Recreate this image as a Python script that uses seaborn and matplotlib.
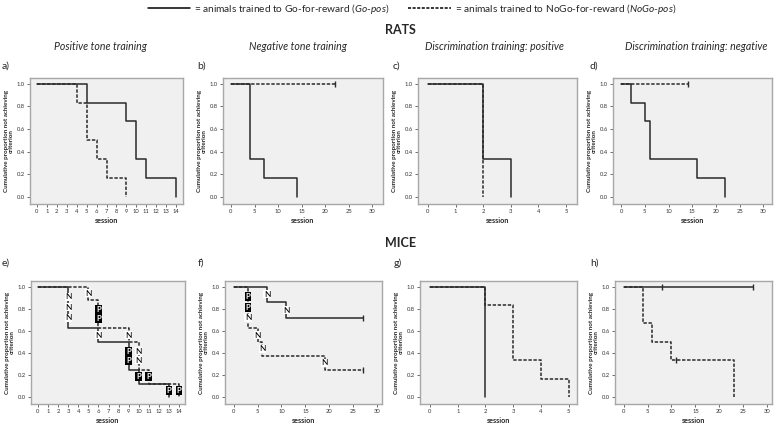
import matplotlib
matplotlib.use('Agg')
import matplotlib.pyplot as plt
import seaborn as sns
from matplotlib.lines import Line2D

# Kaplan-Meier style step data
# (times where the curve steps, proportion after the step)
a_go_t = [0, 5, 9, 10, 11, 14]
a_go_s = [1.0, 0.833, 0.667, 0.333, 0.167, 0.0]
a_nogo_t = [0, 4, 5, 6, 7, 9]
a_nogo_s = [1.0, 0.833, 0.5, 0.333, 0.167, 0.0]

b_go_t = [0, 4, 7, 14]
b_go_s = [1.0, 0.333, 0.167, 0.0]
b_nogo_t = [0, 22]
b_nogo_s = [1.0, 1.0]
b_nogo_cens = [22]

c_go_t = [0, 2, 3]
c_go_s = [1.0, 0.333, 0.0]
c_nogo_t = [0, 2]
c_nogo_s = [1.0, 0.0]

d_go_t = [0, 2, 5, 6, 16, 22]
d_go_s = [1.0, 0.833, 0.667, 0.333, 0.167, 0.0]
d_nogo_t = [0, 14]
d_nogo_s = [1.0, 1.0]
d_nogo_cens = [14]

e_go_t = [0, 3, 6, 9, 10, 13]
e_go_s = [1.0, 0.625, 0.5, 0.25, 0.125, 0.0]
e_go_lab = ['', 'NNN', 'N', 'PP', 'P', 'P']
e_nogo_t = [0, 5, 6, 9, 10, 11, 14]
e_nogo_s = [1.0, 0.875, 0.625, 0.5, 0.25, 0.125, 0.0]
e_nogo_lab = ['', 'N', 'PP', 'N', 'NN', 'P', 'P']

f_go_t = [0, 7, 11, 27]
f_go_s = [1.0, 0.857, 0.714, 0.714]
f_go_lab = ['', 'N', 'N', '']
f_go_cens = [27]
f_nogo_t = [0, 3, 5, 6, 19, 27]
f_nogo_s = [1.0, 0.625, 0.5, 0.375, 0.25, 0.25]
f_nogo_lab = ['', 'PPN', 'N', 'N', 'N', '']
f_nogo_cens = [27]

g_go_t = [0, 2]
g_go_s = [1.0, 0.0]
g_nogo_t = [0, 2, 3, 4, 5]
g_nogo_s = [1.0, 0.833, 0.333, 0.167, 0.0]

h_go_t = [0, 27]
h_go_s = [1.0, 1.0]
h_go_cens = [8, 27]
h_nogo_t = [0, 4, 6, 10, 23]
h_nogo_s = [1.0, 0.667, 0.5, 0.333, 0.0]
h_nogo_cens = [11]

col_titles = ['Positive tone training', 'Negative tone training',
              'Discrimination training: positive', 'Discrimination training: negative']

LINE = '#2a2a2a'
DASH = (0, (2.2, 1.1))

sns.set_style('ticks')
plt.rcParams['font.family'] = ['Lato', 'DejaVu Sans']
plt.rcParams['mathtext.fontset'] = 'custom'
plt.rcParams['mathtext.rm'] = 'Lato'
plt.rcParams['mathtext.it'] = 'Lato:italic'

fig = plt.figure(figsize=(7.77, 4.23), dpi=100)


def px_axes(x0, x1, y0, y1):
    return fig.add_axes([x0 / 777, 1 - y1 / 423, (x1 - x0) / 777, (y1 - y0) / 423])


def km(ax, t, s, dashed, cens=None, labs=None):
    sns.lineplot(x=t, y=s, ax=ax, drawstyle='steps-post', estimator=None, sort=False,
                 color=LINE, lw=1.1, linestyle=DASH if dashed else '-')
    if cens:
        # censored observations sit on the curve level at that time
        yc = [s[max(i for i in range(len(t)) if t[i] <= c)] for c in cens]
        sns.scatterplot(x=cens, y=yc, ax=ax, marker='|', s=14, color=LINE,
                        linewidth=1, zorder=4)
    if labs:
        for i in range(1, len(t)):
            k = len(labs[i])
            for j, ch in enumerate(labs[i]):
                y = s[i - 1] - (s[i - 1] - s[i]) * (j + 1) / (k + 1)
                if ch == 'P':
                    ax.text(t[i], y, 'P', color='white', fontsize=5.6, fontweight='bold',
                            ha='center', va='center', zorder=5,
                            bbox=dict(boxstyle='square,pad=0.12', fc='black', ec='none'))
                else:
                    ax.text(t[i], y, 'N', color='black', fontsize=6,
                            ha='center', va='center', zorder=5,
                            bbox=dict(boxstyle='square,pad=0.06', fc='white', ec='none'))


def style(ax, xlim, xticks):
    ax.set_facecolor('#f0f0f0')
    for sp in ax.spines.values():
        sp.set_color('#a8a8a8')
        sp.set_linewidth(1)
    ax.set_xlim(*xlim)
    ax.set_ylim(-0.06, 1.05)
    ax.set_xticks(xticks)
    ax.set_yticks([0, 0.2, 0.4, 0.6, 0.8, 1.0])
    ax.set_yticklabels(['0.0', '0.2', '0.4', '0.6', '0.8', '1.0'])
    ax.tick_params(length=2, width=0.6, color='#555555', labelsize=4.2, pad=1.5,
                   labelcolor='#333333')
    ax.set_xlabel('session', fontsize=5.2, fontweight='bold', labelpad=2)
    ax.set_ylabel('Cumulative proportion not achieving\ncriterion', fontsize=4.5,
                  fontweight='bold', labelpad=2, linespacing=0.95)


# top row: rats
ax = px_axes(30, 183, 78, 204)
km(ax, a_go_t, a_go_s, False)
km(ax, a_nogo_t, a_nogo_s, True)
style(ax, (-0.7, 14.7), range(0, 15))

ax = px_axes(223, 383, 78, 204)
km(ax, b_go_t, b_go_s, False)
km(ax, b_nogo_t, b_nogo_s, True, cens=b_nogo_cens)
style(ax, (-1.7, 32.3), range(0, 31, 5))

ax = px_axes(418, 577, 78, 204)
km(ax, c_go_t, c_go_s, False)
km(ax, c_nogo_t, c_nogo_s, True)
style(ax, (-0.36, 5.4), range(0, 6))

ax = px_axes(613, 772, 78, 204)
km(ax, d_go_t, d_go_s, False)
km(ax, d_nogo_t, d_nogo_s, True, cens=d_nogo_cens)
style(ax, (-1.7, 31.8), range(0, 31, 5))

# bottom row: mice
ax = px_axes(31, 185, 281, 404)
km(ax, e_go_t, e_go_s, False, labs=e_go_lab)
km(ax, e_nogo_t, e_nogo_s, True, labs=e_nogo_lab)
style(ax, (-0.7, 14.6), range(0, 15))

ax = px_axes(225, 382, 281, 404)
km(ax, f_go_t, f_go_s, False, cens=f_go_cens, labs=f_go_lab)
km(ax, f_nogo_t, f_nogo_s, True, cens=f_nogo_cens, labs=f_nogo_lab)
style(ax, (-1.8, 31), range(0, 31, 5))

ax = px_axes(420, 577, 281, 404)
km(ax, g_go_t, g_go_s, False)
km(ax, g_nogo_t, g_nogo_s, True)
style(ax, (-0.36, 5.3), range(0, 6))

ax = px_axes(615, 772, 281, 404)
km(ax, h_go_t, h_go_s, False, cens=h_go_cens)
km(ax, h_nogo_t, h_nogo_s, True, cens=h_nogo_cens)
style(ax, (-1.8, 31), range(0, 31, 5))

# headings
fig.text(0.515, 0.928, 'RATS', fontsize=9, fontweight='bold', ha='center', va='center')
fig.text(0.515, 0.426, 'MICE', fontsize=9, fontweight='bold', ha='center', va='center')
for x, title in zip([100, 298, 494, 696], col_titles):
    fig.text(x / 777, 1 - 47 / 423, title, fontsize=7.6, style='italic',
             ha='center', va='center')
for x, y, letter in [(2, 66, 'a)'), (197, 66, 'b)'), (393, 66, 'c)'), (590, 66, 'd)'),
                     (2, 263, 'e)'), (198, 263, 'f)'), (394, 263, 'g)'), (590, 263, 'h)')]:
    fig.text(x / 777, 1 - y / 423, letter, fontsize=7.5, ha='left', va='center')

handles = [Line2D([], [], color='black', lw=1.1),
           Line2D([], [], color='black', lw=1.1, linestyle=(0, (2, 1)))]
labels = ['= animals trained to Go-for-reward ($\\it{Go}$-$\\it{pos}$)',
          '= animals trained to NoGo-for-reward ($\\it{NoGo}$-$\\it{pos}$)']
fig.legend(handles, labels, loc='center', bbox_to_anchor=(0.53, 1 - 9 / 423), ncol=2,
           frameon=False, fontsize=7.3, handlelength=4.2, handletextpad=0.4,
           columnspacing=1.8)

fig.savefig('out.png', dpi=100)
